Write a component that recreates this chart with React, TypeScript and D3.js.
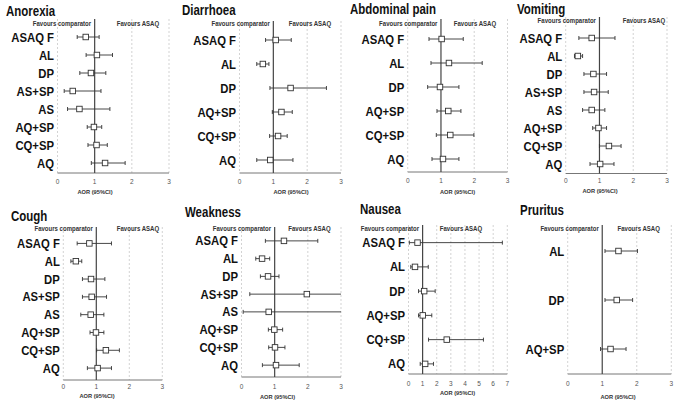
import React from "react";
import * as d3 from "d3";

// ---------- categories ----------
const cats8 = ["ASAQ F", "AL", "DP", "AS+SP", "AS", "AQ+SP", "CQ+SP", "AQ"];
const cats6 = ["ASAQ F", "AL", "DP", "AQ+SP", "CQ+SP", "AQ"];
const catsPruritus = ["AL", "DP", "AQ+SP"];

const ticks3 = [0, 1, 2, 3];
const ticks7 = [0, 1, 2, 3, 4, 5, 6, 7];

// ---------- values (AOR, lower 95% CI, upper 95% CI) ----------
const anorexiaAOR = [0.76, 1.06, 0.9, 0.41, 0.59, 0.98, 1.05, 1.28];
const anorexiaLow = [0.53, 0.77, 0.6, 0.18, 0.27, 0.8, 0.82, 0.91];
const anorexiaHigh = [1.12, 1.48, 1.3, 1.17, 1.41, 1.19, 1.34, 1.82];

const diarrhoeaAOR = [1.07, 0.69, 1.51, 1.24, 1.14, 0.91];
const diarrhoeaLow = [0.77, 0.51, 0.9, 0.97, 0.89, 0.51];
const diarrhoeaHigh = [1.53, 0.87, 2.57, 1.56, 1.41, 1.58];

const abdominalAOR = [1.02, 1.24, 0.97, 1.22, 1.28, 1.06];
const abdominalLow = [0.64, 0.7, 0.6, 0.88, 0.86, 0.73];
const abdominalHigh = [1.67, 2.24, 1.54, 1.6, 1.99, 1.54];

const vomitingAOR = [0.77, 0.36, 0.82, 0.84, 0.77, 0.97, 1.28, 1.02];
const vomitingLow = [0.39, 0.26, 0.54, 0.54, 0.5, 0.8, 1.0, 0.72];
const vomitingHigh = [1.46, 0.5, 1.21, 1.26, 1.16, 1.21, 1.64, 1.43];

const coughAOR = [0.79, 0.38, 0.84, 0.86, 0.83, 0.99, 1.29, 1.04];
const coughLow = [0.42, 0.23, 0.58, 0.58, 0.53, 0.81, 1.01, 0.73];
const coughHigh = [1.46, 0.56, 1.26, 1.31, 1.23, 1.23, 1.7, 1.46];

const weaknessAOR = [1.28, 0.62, 0.8, 1.97, 0.82, 0.99, 1.01, 1.04];
const weaknessLow = [0.72, 0.43, 0.57, 0.25, 0.05, 0.81, 0.82, 0.63];
const weaknessHigh = [2.3, 0.85, 1.13, 15.5, 13.0, 1.24, 1.31, 1.74];

const nauseaAOR = [0.64, 0.46, 1.11, 1.01, 2.71, 1.18];
const nauseaLow = [0.06, 0.16, 0.71, 0.71, 1.42, 0.83];
const nauseaHigh = [6.65, 1.4, 1.89, 1.65, 5.31, 1.77];

const pruritusAOR = [1.47, 1.42, 1.24];
const pruritusLow = [1.08, 1.08, 0.95];
const pruritusHigh = [2.02, 1.88, 1.69];

// ---------- layout (pixels) ----------
type Layout = {
  title: string;
  cats: string[];
  aor: number[];
  low: number[];
  high: number[];
  ticks: number[];
  xL: number;
  xR: number;
  bandTop: number;
  bandBottom: number;
  axisY: number;
  lineTop: number;
  titleX: number;
  titleY: number;
  favY: number;
  favASAQ: number;
  tickY: number;
  aorX: number;
  aorY: number;
};

const panels: Layout[] = [
  { title: "Anorexia", cats: cats8, aor: anorexiaAOR, low: anorexiaLow, high: anorexiaHigh, ticks: ticks3,
    xL: 57.5, xR: 169, bandTop: 28, bandBottom: 172, axisY: 173, lineTop: 19, titleX: 6, titleY: 16,
    favY: 26, favASAQ: 138, tickY: 183.5, aorX: 95, aorY: 194 },
  { title: "Diarrhoea", cats: cats6, aor: diarrhoeaAOR, low: diarrhoeaLow, high: diarrhoeaHigh, ticks: ticks3,
    xL: 239.5, xR: 341, bandTop: 28, bandBottom: 172, axisY: 173, lineTop: 21, titleX: 182, titleY: 15,
    favY: 26, favASAQ: 310, tickY: 184, aorX: 291, aorY: 194 },
  { title: "Abdominal pain", cats: cats6, aor: abdominalAOR, low: abdominalLow, high: abdominalHigh, ticks: ticks3,
    xL: 407.7, xR: 507.5, bandTop: 27, bandBottom: 171, axisY: 172, lineTop: 19, titleX: 350, titleY: 14,
    favY: 26, favASAQ: 475, tickY: 182.5, aorX: 457.5, aorY: 194 },
  { title: "Vomiting", cats: cats8, aor: vomitingAOR, low: vomitingLow, high: vomitingHigh, ticks: ticks3,
    xL: 565.7, xR: 667, bandTop: 29, bandBottom: 173, axisY: 173.5, lineTop: 17, titleX: 517, titleY: 14,
    favY: 23, favASAQ: 644, tickY: 182.5, aorX: 600, aorY: 193 },
  { title: "Cough", cats: cats8, aor: coughAOR, low: coughLow, high: coughHigh, ticks: ticks3,
    xL: 63.3, xR: 162.3, bandTop: 234.5, bandBottom: 377, axisY: 380, lineTop: 227, titleX: 11, titleY: 221,
    favY: 231, favASAQ: 138, tickY: 389, aorX: 97, aorY: 397.5 },
  { title: "Weakness", cats: cats8, aor: weaknessAOR, low: weaknessLow, high: weaknessHigh, ticks: ticks3,
    xL: 241.5, xR: 341, bandTop: 232, bandBottom: 374, axisY: 377, lineTop: 227, titleX: 185, titleY: 217,
    favY: 231, favASAQ: 309.5, tickY: 388.5, aorX: 277.5, aorY: 399 },
  { title: "Nausea", cats: cats6, aor: nauseaAOR, low: nauseaLow, high: nauseaHigh, ticks: ticks7,
    xL: 408.5, xR: 507.3, bandTop: 230.5, bandBottom: 376, axisY: 374, lineTop: 225, titleX: 360, titleY: 214,
    favY: 231, favASAQ: 461, tickY: 386, aorX: 457.5, aorY: 395 },
  { title: "Pruritus", cats: catsPruritus, aor: pruritusAOR, low: pruritusLow, high: pruritusHigh, ticks: ticks3,
    xL: 567.7, xR: 671.3, bandTop: 226.5, bandBottom: 373.5, axisY: 374, lineTop: 225, titleX: 520, titleY: 215,
    favY: 231, favASAQ: 638.7, tickY: 386, aorX: 618, aorY: 399 },
];

const FONT = "'Liberation Sans', Arial, Helvetica, sans-serif";

function SText(props: {
  x: number; y: number; sx?: number; size: number; weight?: string | number;
  anchor?: string; fill?: string; children: React.ReactNode;
}) {
  const { x, y, sx = 1, size, weight = "normal", anchor = "start", fill = "#000", children } = props;
  return (
    <text
      transform={`translate(${x},${y}) scale(${sx},1)`}
      fontFamily={FONT}
      fontSize={size}
      fontWeight={weight}
      textAnchor={anchor as any}
      fill={fill}
    >
      {children}
    </text>
  );
}

function Panel({ p }: { p: Layout }) {
  const xMax = p.ticks[p.ticks.length - 1];
  const x = d3.scaleLinear().domain([0, xMax]).range([p.xL, p.xR]);
  const y = d3.scaleBand<string>().domain(p.cats).range([p.bandTop, p.bandBottom]);
  const cy = (c: string) => (y(c) as number) + y.bandwidth() / 2;
  const capH = 2;
  const box = 5.5;
  const x1 = x(1);

  return (
    <g>
      <SText x={p.titleX} y={p.titleY} sx={0.82} size={14} weight="bold" fill="#111">
        {p.title}
      </SText>
      {/* dashed grid lines */}
      {p.ticks.filter((t) => t !== 1).map((t) => (
        <line key={"g" + t} x1={x(t)} x2={x(t)} y1={p.lineTop} y2={p.axisY}
          stroke="#c8c8c8" strokeWidth={0.8} strokeDasharray="2,2" />
      ))}
      {/* axis */}
      <line x1={p.xL} x2={p.xR} y1={p.axisY} y2={p.axisY} stroke="#777" strokeWidth={1} />
      {p.ticks.map((t) => (
        <SText key={"t" + t} x={x(t)} y={p.tickY} size={6.5} anchor="middle" fill="#555">
          {t}
        </SText>
      ))}
      <SText x={p.aorX} y={p.aorY} size={6} sx={0.95} weight="bold" anchor="middle" fill="#333">
        AOR (95%CI)
      </SText>
      {/* favours labels */}
      <SText x={x1 - 3.5} y={p.favY} size={6.5} sx={0.93} weight="bold" anchor="end" fill="#333">
        Favours comparator
      </SText>
      <SText x={p.favASAQ} y={p.favY} size={6.5} sx={0.93} weight="bold" anchor="middle" fill="#333">
        Favours ASAQ
      </SText>
      {/* reference line at 1 */}
      <line x1={x1} x2={x1} y1={p.lineTop} y2={p.axisY} stroke="#444" strokeWidth={1.2} />
      {/* rows */}
      {p.cats.map((c, i) => {
        const yy = cy(c);
        const lo = Math.max(p.low[i], 0);
        const hi = p.high[i];
        const xlo = x(lo);
        const clippedHi = hi > xMax;
        const xhi = clippedHi ? p.xR : x(hi);
        return (
          <g key={c}>
            <SText x={p.xL - 3.5} y={yy + 4.6} size={13} sx={0.87} weight="bold" anchor="end" fill="#111">
              {c}
            </SText>
            <line x1={xlo} x2={xhi} y1={yy} y2={yy} stroke="#333" strokeWidth={0.9} />
            <line x1={xlo} x2={xlo} y1={yy - capH} y2={yy + capH} stroke="#333" strokeWidth={0.9} />
            {!clippedHi && (
              <line x1={xhi} x2={xhi} y1={yy - capH} y2={yy + capH} stroke="#333" strokeWidth={0.9} />
            )}
            <rect x={x(p.aor[i]) - box / 2} y={yy - box / 2} width={box} height={box}
              fill="#fff" stroke="#333" strokeWidth={0.9} />
          </g>
        );
      })}
    </g>
  );
}

export default function App() {
  return (
    <svg
      width={685}
      height={404}
      viewBox="0 0 685 404"
      style={{ position: "absolute", left: 0, top: 0, background: "#fff" }}
    >
      <rect x={0} y={0} width={685} height={404} fill="#fff" />
      {panels.map((p) => (
        <Panel key={p.title} p={p} />
      ))}
    </svg>
  );
}
